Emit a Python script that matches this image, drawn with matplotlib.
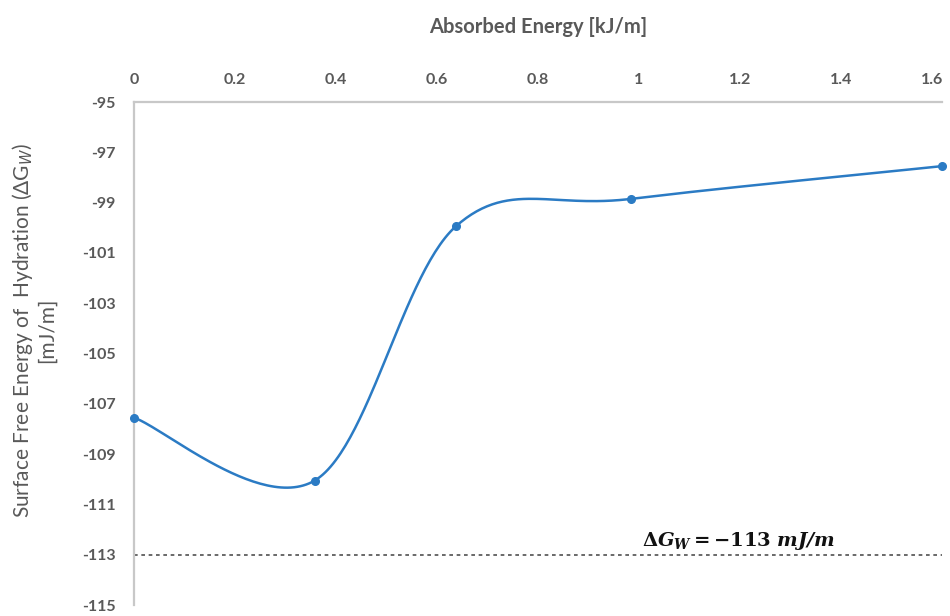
import numpy as np
import matplotlib
matplotlib.use("Agg")
import matplotlib.pyplot as plt
from matplotlib.transforms import ScaledTranslation

# ---- data ----
energy = [0.0, 0.358, 0.637, 0.985, 1.6]
dG = [-107.55, -110.05, -99.95, -98.85, -97.55]
x_ticks = [0, 0.2, 0.4, 0.6, 0.8, 1.0, 1.2, 1.4, 1.6]
x_tick_labels = ["0", "0.2", "0.4", "0.6", "0.8", "1", "1.2", "1.4", "1.6"]
y_ticks = [-95, -97, -99, -101, -103, -105, -107, -109, -111, -113, -115]
ref_value = -113
x_title = "Absorbed Energy [kJ/m]"
y_title = "Surface Free Energy of  Hydration (ΔG$_W$)\n[mJ/m]"

plt.rcParams['font.family'] = ['Lato', 'DejaVu Sans']


def excel_smooth(xs, ys, n=60):
    xs = np.asarray(xs, float)
    ys = np.asarray(ys, float)
    P = np.column_stack([xs, ys])
    out = []
    for i in range(len(P) - 1):
        p0 = P[i - 1] if i > 0 else P[i]
        p1 = P[i]
        p2 = P[i + 1]
        p3 = P[i + 2] if i + 2 < len(P) else P[i + 1]
        c1 = p1 + (p2 - p0) / 6.0
        c2 = p2 - (p3 - p1) / 6.0
        t = np.linspace(0, 1, n)[:, None]
        seg = ((1 - t) ** 3) * p1 + 3 * ((1 - t) ** 2) * t * c1 + 3 * (1 - t) * t ** 2 * c2 + t ** 3 * p2
        out.append(seg if i == 0 else seg[1:])
    S = np.vstack(out)
    return S[:, 0], S[:, 1]


fig = plt.figure(figsize=(9.5, 6.16), dpi=100)
ax = fig.add_axes([134 / 950, 1 - 605 / 616, (942 - 134) / 950, (605 - 102) / 616])

blue = '#2B7BC4'
sx, sy = excel_smooth(energy, dG)
ax.plot(sx, sy, color=blue, lw=1.8, zorder=3, clip_on=False)
ax.plot(energy, dG, 'o', color=blue, ms=5.5, zorder=4, clip_on=False)

ax.axhline(ref_value, color='#505050', lw=1.2, ls=(0, (2.2, 2.2)), zorder=2)
ax.text(1.005, ref_value + 0.12, r"$\mathbf{\Delta}\mathbfit{G_W}\mathbf{=-113}\ \mathbfit{mJ/m}$",
        fontsize=14, color='#111111', ha='left', va='bottom', zorder=5,
        math_fontfamily='dejavuserif')

ax.set_xlim(0, 1.6)
ax.set_ylim(-115, -95)
ax.xaxis.tick_top()
ax.xaxis.set_label_position('top')
ax.set_xticks(x_ticks)
ax.set_xticklabels(x_tick_labels)
ax.set_yticks(y_ticks)
ax.set_yticklabels([str(v) for v in y_ticks])
ax.tick_params(axis='both', length=0, labelsize=11.5, labelcolor='#595959')
ax.tick_params(axis='x', pad=11)
ax.tick_params(axis='y', pad=13)
for lab in ax.get_xticklabels() + ax.get_yticklabels():
    lab.set_fontweight('bold')
last = ax.get_xticklabels()[-1]
last.set_horizontalalignment('right')
last.set_transform(last.get_transform() + ScaledTranslation(1 / 100, 0, fig.dpi_scale_trans))

for s in ['right', 'bottom']:
    ax.spines[s].set_visible(False)
for s in ['top', 'left']:
    ax.spines[s].set_color('#C8C8C8')
    ax.spines[s].set_linewidth(1.6)

fig.text(538 / 950, 1 - 27 / 616, x_title, ha='center', va='center', fontsize=14.5,
         fontweight='bold', color='#595959')
fig.text(33 / 950, 1 - 330 / 616, y_title, ha='center', va='center', rotation=90,
         fontsize=15, color='#595959', linespacing=1.1)

fig.savefig('out.png', dpi=100)
